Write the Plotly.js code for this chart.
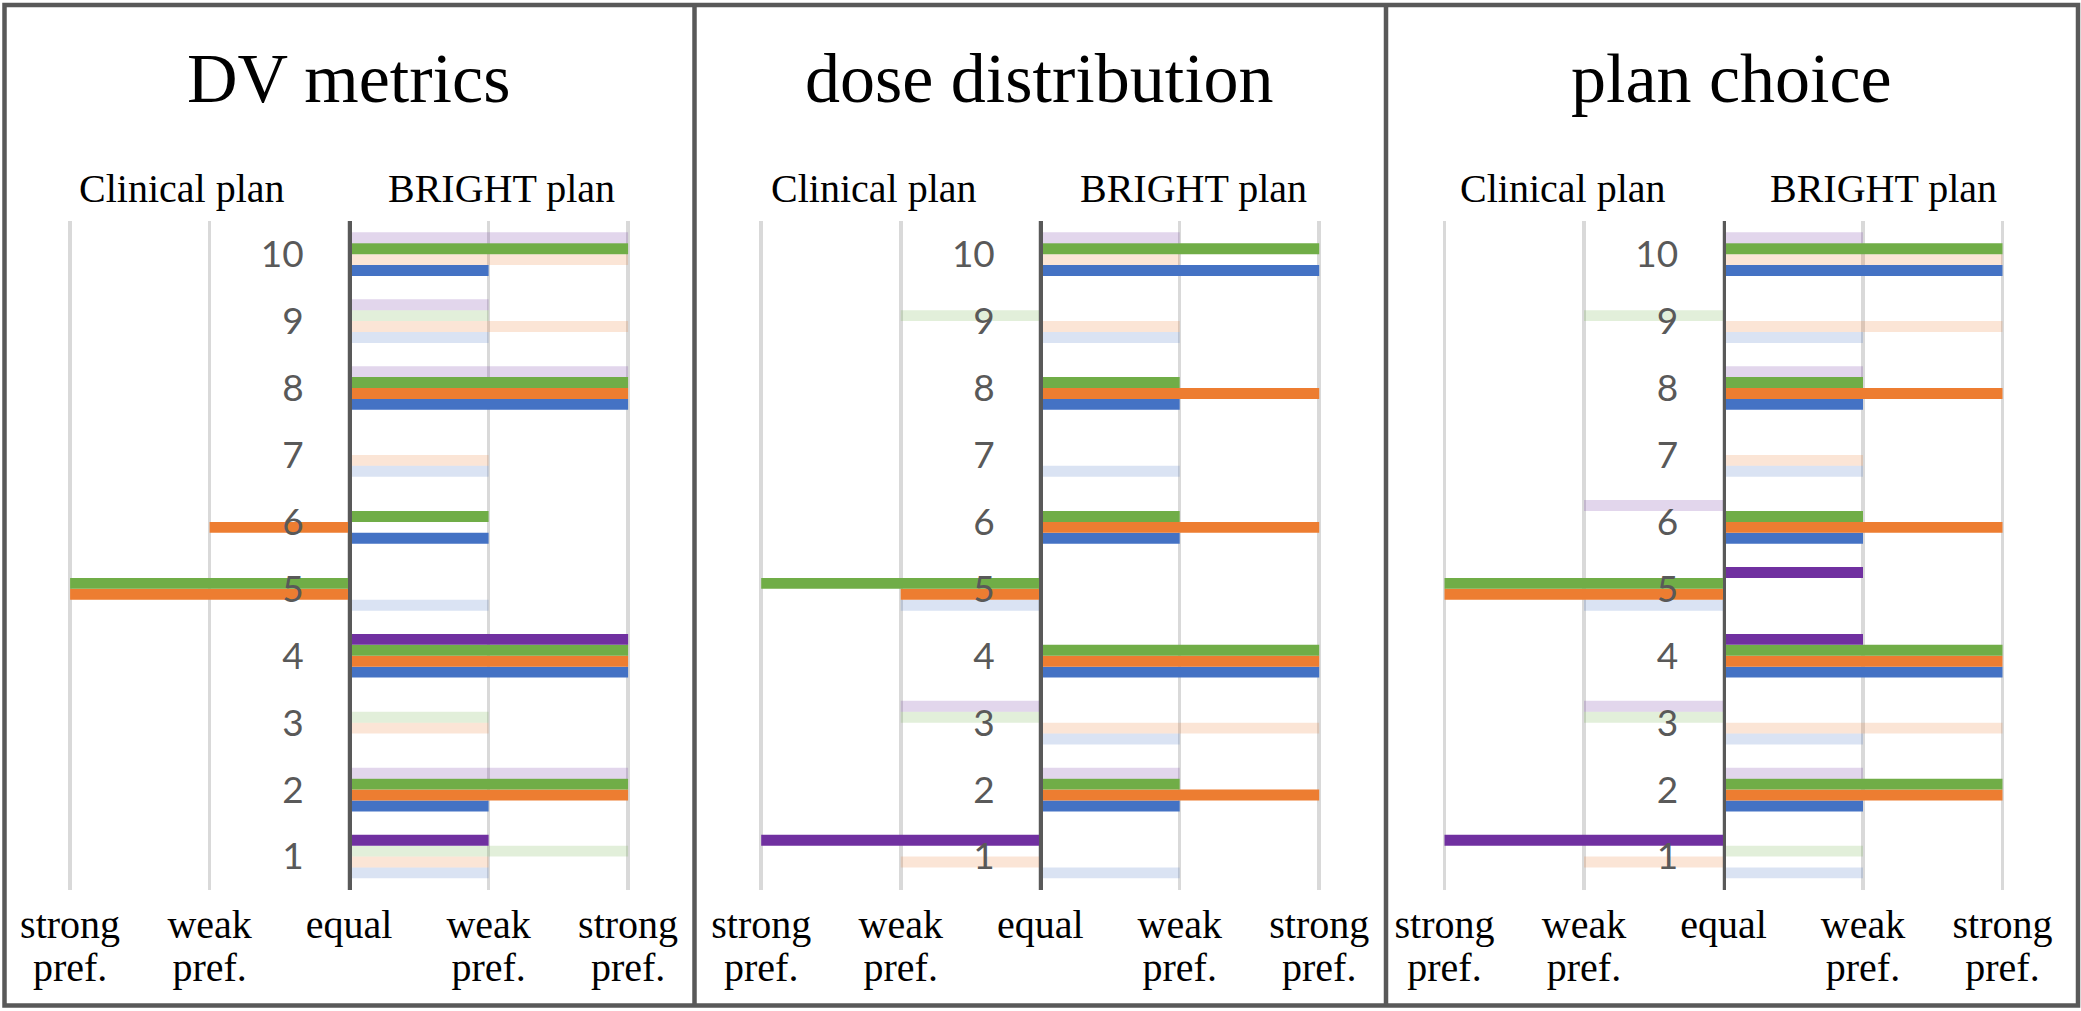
<!DOCTYPE html>
<html>
<head>
<meta charset="utf-8">
<script src="https://cdn.plot.ly/plotly-3.0.1.min.js"></script>
<style>
  html, body { margin: 0; padding: 0; background: #ffffff; }
  #chart { width: 2081px; height: 1011px; }
</style>
</head>
<body>
<div id="chart"></div>
<script>
// ---------------- data ----------------
const categories = [1, 2, 3, 4, 5, 6, 7, 8, 9, 10];
const tickValues = [-2, -1, 0, 1, 2];
const tickLabelsTop = ["strong", "weak", "equal", "weak", "strong"];
const tickLabelsBottom = ["pref.", "pref.", "", "pref.", "pref."];
const panelTitles = ["DV metrics", "dose distribution", "plan choice"];
const sideLabels = ["Clinical plan", "BRIGHT plan"];
const seriesNames = ["series 1", "series 2", "series 3", "series 4"];
const seriesColors = ["#4472C4", "#ED7D31", "#70AD47", "#7030A0"];
const seriesFaded = ["rgba(68,114,196,0.2)", "rgba(237,125,49,0.2)", "rgba(112,173,71,0.2)", "rgba(112,48,160,0.2)"];

// values: -2 strong pref. clinical, -1 weak pref. clinical, 0 equal, 1 weak pref. BRIGHT, 2 strong pref. BRIGHT
// solid: 1 = full colour, 0 = faded
// DV metrics
const dvBlue        = [1, 1, 0, 2, 1, 1, 1, 2, 1, 1];
const dvBlueSolid   = [0, 1, 0, 1, 0, 1, 0, 1, 0, 1];
const dvOrange      = [1, 2, 1, 2, -2, -1, 1, 2, 2, 2];
const dvOrangeSolid = [0, 1, 0, 1, 1, 1, 0, 1, 0, 0];
const dvGreen       = [2, 2, 1, 2, -2, 1, 0, 2, 1, 2];
const dvGreenSolid  = [0, 1, 0, 1, 1, 1, 0, 1, 0, 1];
const dvPurple      = [1, 2, 0, 2, 0, 0, 0, 2, 1, 2];
const dvPurpleSolid = [1, 0, 0, 1, 0, 0, 0, 0, 0, 0];
// dose distribution
const ddBlue        = [1, 1, 1, 2, -1, 1, 1, 1, 1, 2];
const ddBlueSolid   = [0, 1, 0, 1, 0, 1, 0, 1, 0, 1];
const ddOrange      = [-1, 2, 2, 2, -1, 2, 0, 2, 1, 1];
const ddOrangeSolid = [0, 1, 0, 1, 1, 1, 0, 1, 0, 0];
const ddGreen       = [0, 1, -1, 2, -2, 1, 0, 1, -1, 2];
const ddGreenSolid  = [0, 1, 0, 1, 1, 1, 0, 1, 0, 1];
const ddPurple      = [-2, 1, -1, 0, 0, 0, 0, 0, 0, 1];
const ddPurpleSolid = [1, 0, 0, 0, 0, 0, 0, 0, 0, 0];
// plan choice
const pcBlue        = [1, 1, 1, 2, -1, 1, 1, 1, 1, 2];
const pcBlueSolid   = [0, 1, 0, 1, 0, 1, 0, 1, 0, 1];
const pcOrange      = [-1, 2, 2, 2, -2, 2, 1, 2, 2, 2];
const pcOrangeSolid = [0, 1, 0, 1, 1, 1, 0, 1, 0, 0];
const pcGreen       = [1, 2, -1, 2, -2, 1, 0, 1, -1, 2];
const pcGreenSolid  = [0, 1, 0, 1, 1, 1, 0, 1, 0, 1];
const pcPurple      = [-2, 1, -1, 1, 1, -1, 0, 1, 0, 1];
const pcPurpleSolid = [1, 0, 0, 1, 1, 0, 0, 0, 0, 0];

const panelValues = [
  [dvBlue, dvOrange, dvGreen, dvPurple],
  [ddBlue, ddOrange, ddGreen, ddPurple],
  [pcBlue, pcOrange, pcGreen, pcPurple]
];
const panelSolid = [
  [dvBlueSolid, dvOrangeSolid, dvGreenSolid, dvPurpleSolid],
  [ddBlueSolid, ddOrangeSolid, ddGreenSolid, ddPurpleSolid],
  [pcBlueSolid, pcOrangeSolid, pcGreenSolid, pcPurpleSolid]
];

// ---------------- layout geometry (pixels) ----------------
const W = 2081, H = 1011;
const px = v => v / W;
const py = v => 1 - v / H;
const centers = [349.1, 1040.2, 1723.5];   // x = 0 lines
const unit = 139.5;                          // pixels per preference step
const xr = 2.1;
const plotTop = 220.7, plotBottom = 890;
const titleX = [348.9, 1039.2, 1731.9];
const clinicalX = [182, 873.8, 1563.4];
const brightX = [501.6, 1193.5, 1883];

const serif = "Liberation Serif, Times New Roman, serif";

const data = [];
for (let p = 0; p < 3; p++) {
  for (let s = 0; s < 4; s++) {
    data.push({
      type: "bar",
      orientation: "h",
      name: seriesNames[s],
      x: panelValues[p][s],
      y: categories,
      xaxis: "x" + (p === 0 ? "" : p + 1),
      yaxis: "y" + (p === 0 ? "" : p + 1),
      marker: {
        color: panelSolid[p][s].map(f => f ? seriesColors[s] : seriesFaded[s]),
        line: { width: 0 }
      },
      hoverinfo: "skip",
      showlegend: false
    });
  }
}

const layout = {
  width: W, height: H,
  margin: { l: 0, r: 0, t: 0, b: 0 },
  paper_bgcolor: "#ffffff",
  plot_bgcolor: "rgba(0,0,0,0)",
  barmode: "group",
  bargap: 0.348,
  bargroupgap: 0,
  showlegend: false,
  annotations: [],
  shapes: []
};

const tickFont = { family: serif, size: 40, color: "#000000" };

for (let p = 0; p < 3; p++) {
  const sfx = p === 0 ? "" : String(p + 1);
  const c = centers[p];
  layout["xaxis" + sfx] = {
    domain: [px(c - xr * unit), px(c + xr * unit)],
    range: [-xr, xr],
    anchor: "y" + sfx,
    tickmode: "array",
    tickvals: tickValues,
    ticktext: tickLabelsTop,
    ticks: "",
    showline: false,
    zeroline: false,
    showgrid: true,
    gridcolor: "#D9D9D9",
    gridwidth: 3.6,
    tickfont: tickFont,
    ticklabelstandoff: 7,
    fixedrange: true
  };
  // second line of the preference labels
  layout["xaxis" + (p + 4)] = {
    overlaying: "x" + sfx,
    range: [-xr, xr],
    anchor: "y" + sfx,
    side: "bottom",
    tickmode: "array",
    tickvals: tickValues,
    ticktext: tickLabelsBottom,
    ticks: "",
    showline: false,
    zeroline: false,
    showgrid: false,
    tickfont: tickFont,
    ticklabelstandoff: 50,
    fixedrange: true
  };
  layout["yaxis" + sfx] = {
    domain: [py(plotBottom), py(plotTop)],
    range: [0.5, 10.5],
    anchor: "free",
    position: px(c),
    tickmode: "array",
    tickvals: categories,
    ticktext: categories.map(String),
    ticks: "",
    showgrid: false,
    zeroline: false,
    showline: true,
    linecolor: "#595959",
    linewidth: 3.7,
    tickfont: { family: "Lato, Noto Sans, sans-serif", size: 37, color: "#595959" },
    ticklabelstandoff: 37,
    fixedrange: true
  };
  layout.annotations.push({
    xref: "paper", yref: "paper", x: px(titleX[p]), y: py(78),
    xanchor: "center", yanchor: "middle", showarrow: false,
    text: panelTitles[p], font: { family: serif, size: 70, color: "#000000" }
  });
  layout.annotations.push({
    xref: "paper", yref: "paper", x: px(clinicalX[p]), y: py(188.2),
    xanchor: "center", yanchor: "middle", showarrow: false,
    text: sideLabels[0], font: { family: serif, size: 40, color: "#000000" }
  });
  layout.annotations.push({
    xref: "paper", yref: "paper", x: px(brightX[p]), y: py(188.2),
    xanchor: "center", yanchor: "middle", showarrow: false,
    text: sideLabels[1], font: { family: serif, size: 40, color: "#000000" }
  });
}

// invisible traces so the overlay axes are drawn
for (let p = 0; p < 3; p++) {
  const sfx = p === 0 ? "" : String(p + 1);
  data.push({
    type: "bar", orientation: "h", x: [0], y: [categories[0]],
    xaxis: "x" + (p + 4), yaxis: "y" + sfx,
    marker: { color: "rgba(0,0,0,0)", line: { width: 0 } },
    hoverinfo: "skip", showlegend: false
  });
}

// panel frames
const frameLine = { color: "#595959", width: 4.5 };
layout.shapes.push({ type: "rect", xref: "paper", yref: "paper",
  x0: px(4.5), x1: px(2078), y0: py(1005.5), y1: py(5), line: frameLine, layer: "above" });
[694.5, 1386].forEach(xv => layout.shapes.push({ type: "line", xref: "paper", yref: "paper",
  x0: px(xv), x1: px(xv), y0: py(1005.5), y1: py(5), line: frameLine, layer: "above" }));

Plotly.newPlot("chart", data, layout, { staticPlot: true, displayModeBar: false });
</script>
</body>
</html>
